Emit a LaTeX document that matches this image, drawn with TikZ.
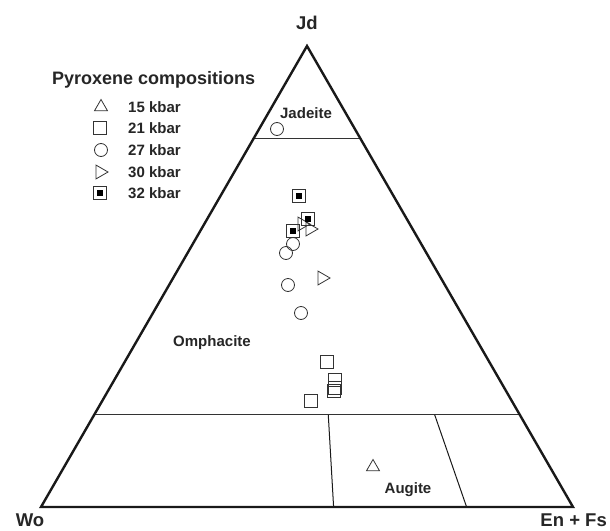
\documentclass[tikz,border=0pt]{standalone}
\usepackage{fontspec}
\setmainfont{Liberation Sans}
\usetikzlibrary{shapes.geometric}

\begin{document}
\begin{tikzpicture}[x=1pt,y=-1pt,
  pt/.style={draw=black!80, line width=0.8pt, inner sep=0pt},
  tri15/.style={pt, regular polygon, regular polygon sides=3, minimum size=15pt},
  sq21/.style={pt, rectangle, minimum size=13pt},
  circ27/.style={pt, circle, minimum size=13pt},
  tri30/.style={pt, regular polygon, regular polygon sides=3, minimum size=16pt, shape border rotate=-90},
  sq32/.style={sq21, path picture={\fill[black] ([shift={(-3pt,-3pt)}]path picture bounding box.center) rectangle ([shift={(3pt,3pt)}]path picture bounding box.center);}},
  lbl/.style={font=\fontsize{15}{18}\selectfont\bfseries, text=black!85, inner sep=0pt},
  corner/.style={font=\fontsize{18.5}{22}\selectfont\bfseries, text=black!85, inner sep=0pt},
]
\fill[white] (0,0) rectangle (610,530);
\useasboundingbox (0,0) rectangle (610,530);
% corners of the ternary diagram
\coordinate (wo) at (41,507);
\coordinate (en) at (573,507);
\coordinate (jd) at (307,46);
% field boundaries
\draw[black!80, line width=1.3pt] (barycentric cs:wo=0.2,jd=0.8) -- (barycentric cs:en=0.2,jd=0.8);
\draw[black!80, line width=1.3pt] (barycentric cs:wo=0.8,jd=0.2) -- (barycentric cs:en=0.8,jd=0.2);
\draw[black!90, line width=1pt] (barycentric cs:wo=0.45,en=0.55) -- (barycentric cs:wo=0.36,en=0.44,jd=0.2);
\draw[black!90, line width=1pt] (barycentric cs:wo=0.2,en=0.8) -- (barycentric cs:wo=0.16,en=0.64,jd=0.2);
\draw[black!90, line width=2.4pt, line join=miter] (wo) -- (en) -- (jd) -- cycle;
% corner and field labels
\node[corner] (jdlbl) at (307,23) {Jd};
\node[corner] (wolbl) at (30,520) {Wo};
\node[corner, anchor=east] (enlbl) at (607,520) {En + Fs};
\node[lbl] (jadeite) at (306,113) {Jadeite};
\node[lbl] (omphacite) at (212,343) {Omphacite};
\node[lbl] (augite) at (408,490) {Augite};
% legend
\node[lbl, anchor=west, font=\fontsize{18}{21}\selectfont\bfseries] (legtitle) at (52,80) {Pyroxene compositions};
\node[tri15] (leg15) at (101,107) {};
\node[sq21] (leg21) at (100,128) {};
\node[circ27] (leg27) at (101,150) {};
\node[tri30] (leg30) at (100,172) {};
\node[sq32] (leg32) at (100,193) {};
\node[lbl, anchor=west] (txt15) at (128,107) {15 kbar};
\node[lbl, anchor=west] (txt21) at (128,128) {21 kbar};
\node[lbl, anchor=west] (txt27) at (128,150) {27 kbar};
\node[lbl, anchor=west] (txt30) at (128,172) {30 kbar};
\node[lbl, anchor=west] (txt32) at (128,193) {32 kbar};
% 15 kbar
\node[tri15] (a1) at (373,467) {};
% 21 kbar
\node[sq21] (b1) at (327,362) {};
\node[sq21] (b2) at (335,380) {};
\node[sq21] (b3) at (334.5,387.5) {};
\node[sq21] (b4) at (333.5,390.5) {};
\node[sq21] (b5) at (311,401) {};
% 27 kbar
\node[circ27] (c1) at (277,129) {};
\node[circ27] (c2) at (293,244) {};
\node[circ27] (c3) at (286,253) {};
\node[circ27] (c4) at (288,285) {};
\node[circ27] (c5) at (301,313) {};
% 30 kbar
\node[tri30] (d1) at (302,224) {};
\node[tri30] (d2) at (310,229) {};
\node[tri30] (d3) at (322,278) {};
% 32 kbar
\node[sq32] (e1) at (299,196) {};
\node[sq32] (e2) at (308,219) {};
\node[sq32] (e3) at (293,231) {};
\end{tikzpicture}
\end{document}
